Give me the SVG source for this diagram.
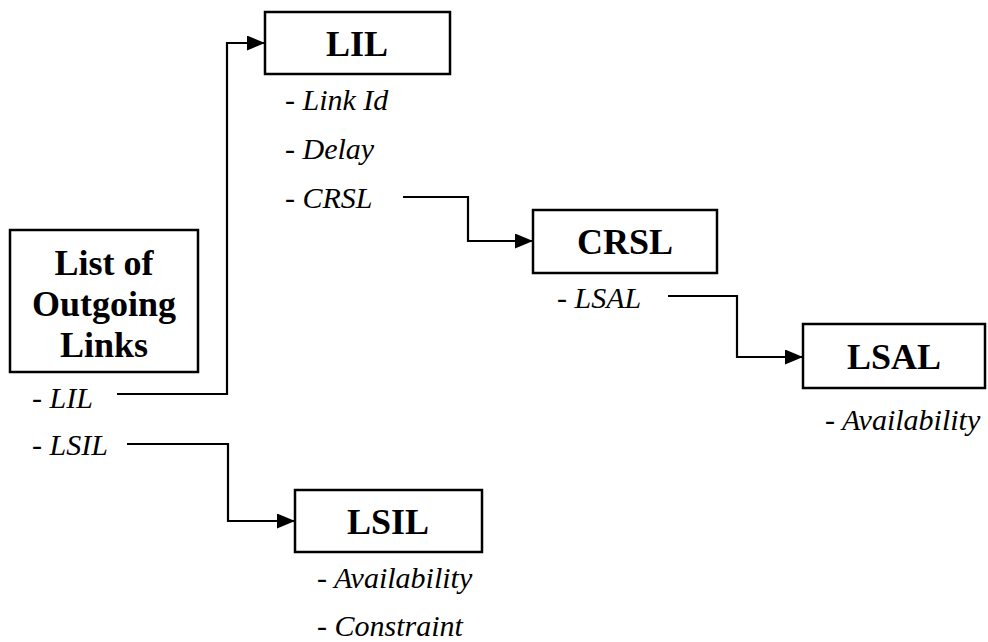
<svg xmlns="http://www.w3.org/2000/svg" width="988" height="642" viewBox="0 0 988 642">
  <defs>
    <marker id="arrow" markerUnits="userSpaceOnUse" markerWidth="18" markerHeight="15" refX="18" refY="7.5" orient="auto">
      <path d="M0,0 L18,7.5 L0,15 Z" fill="#000"/>
    </marker>
    <style>
      .box { fill: #fff; stroke: #000; stroke-width: 2.5; }
      .title { font-family: "Liberation Serif", "Times New Roman", serif; font-weight: bold; font-size: 36px; fill: #000; text-anchor: middle; }
      .item { font-family: "Liberation Serif", "Times New Roman", serif; font-style: italic; font-size: 30px; fill: #000; }
      .link { fill: none; stroke: #000; stroke-width: 2.2; marker-end: url(#arrow); }
    </style>
  </defs>
  <rect width="988" height="642" fill="#fff"/>

  <!-- connectors -->
  <g id="connectors">
    <path class="link" d="M117,394 H227 V43 H265"/>
    <path class="link" d="M127,444 H228 V521 H295"/>
    <path class="link" d="M403,197 H468 V241 H533"/>
    <path class="link" d="M668,296 H737 V357 H803"/>
  </g>

  <!-- root list -->
  <g id="node-outgoing-links">
    <rect class="box" x="10" y="230" width="188" height="142"/>
    <text class="title" x="104" y="275">List of</text>
    <text class="title" x="104" y="316">Outgoing</text>
    <text class="title" x="104" y="357">Links</text>
    <text class="item" x="32" y="408">- LIL</text>
    <text class="item" x="32" y="455">- LSIL</text>
  </g>

  <g id="node-lil">
    <rect class="box" x="265" y="12" width="185" height="62"/>
    <text class="title" x="357" y="56">LIL</text>
    <text class="item" x="285" y="110">- Link Id</text>
    <text class="item" x="285" y="159">- Delay</text>
    <text class="item" x="285" y="208">- CRSL</text>
  </g>

  <g id="node-crsl">
    <rect class="box" x="533" y="210" width="184" height="63"/>
    <text class="title" x="625" y="254">CRSL</text>
    <text class="item" x="557" y="308">- LSAL</text>
  </g>

  <g id="node-lsal">
    <rect class="box" x="803" y="324" width="182" height="64"/>
    <text class="title" x="894" y="369">LSAL</text>
    <text class="item" x="825" y="430">- Availability</text>
  </g>

  <g id="node-lsil">
    <rect class="box" x="295" y="490" width="187" height="62"/>
    <text class="title" x="388" y="534">LSIL</text>
    <text class="item" x="317" y="588">- Availability</text>
    <text class="item" x="317" y="636">- Constraint</text>
  </g>
</svg>
